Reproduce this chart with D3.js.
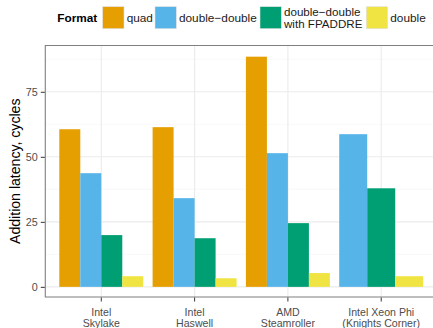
<!DOCTYPE html>
<html><head><meta charset="utf-8">
<script src="https://cdn.jsdelivr.net/npm/d3@7"></script>
<style>body{margin:0;background:#fff}svg{display:block;font-family:"Liberation Sans",Arial,sans-serif}</style>
</head><body><div id="chart"></div>
<script>
const categories = ["Intel\nSkylake", "Intel\nHaswell", "AMD\nSteamroller", "Intel Xeon Phi\n(Knights Corner)"];
const seriesNames = ["quad", "double\u2212double", "double\u2212double\nwith FPADDRE", "double"];
const seriesColors = ["#E69F00", "#56B4E9", "#009E73", "#F0E442"];
const quad = [60.6, 61.4, 88.5, null];
const doubleDouble = [43.7, 34.1, 51.4, 58.7];
const ddFpaddre = [19.9, 18.7, 24.5, 37.9];
const dbl = [4.1, 3.3, 5.3, 4.1];
const yTicks = [0, 25, 50, 75];
const yMinor = [12.5, 37.5, 62.5, 87.5];
const legendTitle = "Format";
const yTitle = "Addition latency, cycles";

const seriesValues = [quad, doubleDouble, ddFpaddre, dbl];
const W = 433, H = 328;
const panel = {left: 45.3, top: 45.5, bottom: 297, right: 437.2};

const svg = d3.select("#chart").append("svg").attr("width", W).attr("height", H);

const x = d3.scaleBand().domain(categories).range([panel.left, panel.right]).paddingInner(0).paddingOuter(0.1);
const y = d3.scaleLinear().domain([-3.9, 92.8]).range([panel.bottom, panel.top]);

const g = svg.append("g");
g.append("rect").attr("x", panel.left).attr("y", panel.top).attr("width", panel.right - panel.left).attr("height", panel.bottom - panel.top).attr("fill", "#fff");
g.selectAll(".minor").data(yMinor).enter().append("line")
  .attr("x1", panel.left).attr("x2", panel.right).attr("y1", d => y(d)).attr("y2", d => y(d))
  .attr("stroke", "#f7f7f7").attr("stroke-width", 0.8);
g.selectAll(".major").data(yTicks).enter().append("line")
  .attr("x1", panel.left).attr("x2", panel.right).attr("y1", d => y(d)).attr("y2", d => y(d))
  .attr("stroke", "#ebebeb").attr("stroke-width", 1.1);
g.selectAll(".vmajor").data(categories).enter().append("line")
  .attr("x1", d => x(d) + x.bandwidth() / 2).attr("x2", d => x(d) + x.bandwidth() / 2)
  .attr("y1", panel.top).attr("y2", panel.bottom)
  .attr("stroke", "#ebebeb").attr("stroke-width", 1.1);

categories.forEach((c, ci) => {
  const present = seriesNames.map((s, si) => si).filter(si => seriesValues[si][ci] != null);
  const cx = x(c) + x.bandwidth() / 2;
  const gw = x.bandwidth() * 0.9;
  const inner = d3.scaleBand().domain(present).range([cx - gw / 2, cx + gw / 2]);
  g.selectAll(null).data(present).enter().append("rect")
    .attr("x", si => inner(si)).attr("width", inner.bandwidth())
    .attr("y", si => y(seriesValues[si][ci]))
    .attr("height", si => y(0) - y(seriesValues[si][ci]))
    .attr("fill", si => seriesColors[si]);
});

g.append("path").attr("d", `M${panel.right},${panel.top}H${panel.left}V${panel.bottom}H${panel.right}`)
  .attr("fill", "none").attr("stroke", "#7f7f7f").attr("stroke-width", 1.1);

const yAxis = svg.append("g").attr("transform", `translate(${panel.left - 0.5},0)`)
  .call(d3.axisLeft(y).tickValues(yTicks).tickSize(4).tickPadding(3));
yAxis.select(".domain").remove();
yAxis.selectAll(".tick line").attr("stroke", "#333").attr("stroke-width", 1);
yAxis.selectAll(".tick text").attr("fill", "#4d4d4d").style("font-size", "10.8px").style("font-family", "'Liberation Sans',Arial,sans-serif");

const xAxis = svg.append("g").attr("transform", `translate(0,${panel.bottom + 0.5})`)
  .call(d3.axisBottom(x).tickSize(4).tickFormat(""));
xAxis.select(".domain").remove();
xAxis.selectAll(".tick line").attr("stroke", "#333").attr("stroke-width", 1);
xAxis.selectAll(".tick").each(function(d) {
  const lines = d.split("\n");
  const t = d3.select(this).append("text").attr("fill", "#4d4d4d").attr("text-anchor", "middle")
    .style("font-size", "10.6px");
  lines.forEach((ln, i) => t.append("tspan").attr("x", 0).attr("y", 18 + i * 11.2).text(ln));
});

svg.append("text").attr("transform", `translate(20,${(panel.top + panel.bottom) / 2}) rotate(-90)`)
  .attr("text-anchor", "middle").style("font-size", "14.1px").attr("fill", "#000").text(yTitle);

const leg = svg.append("g");
leg.append("text").attr("x", 57.3).attr("y", 22).style("font-size", "11.8px").style("font-weight", "bold").text(legendTitle);
const keyX = [102.7, 155, 260, 366.3];
seriesNames.forEach((s, i) => {
  leg.append("rect").attr("x", keyX[i]).attr("y", 6.7).attr("width", 21.3).attr("height", 22)
    .attr("fill", seriesColors[i]).attr("stroke", "#e0e0e0").attr("stroke-width", 0.6);
  const lines = s.split("\n");
  const fs = lines.length === 1 ? 11.8 : 11.6;
  const y0 = lines.length === 1 ? 22 : 16;
  lines.forEach((ln, j) => leg.append("text").style("font-size", fs + "px").attr("fill", "#1a1a1a")
    .attr("x", keyX[i] + 24).attr("y", y0 + j * 12).text(ln));
});
</script></body></html>
